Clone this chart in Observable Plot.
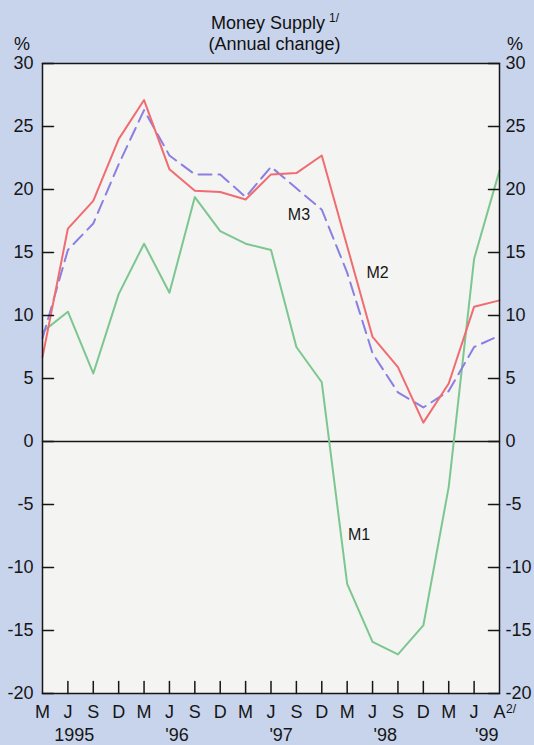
<!DOCTYPE html>
<html><head><meta charset="utf-8">
<script src="https://cdn.jsdelivr.net/npm/d3@7"></script>
<script src="https://cdn.jsdelivr.net/npm/@observablehq/plot@0.6"></script>
<style>
html,body{margin:0;padding:0;background:#c8d4ec;}
#wrap{position:relative;width:534px;height:745px;font-family:"Liberation Sans",Arial,sans-serif;color:#111;overflow:hidden;}
.t{position:absolute;font-size:18px;line-height:20px;white-space:nowrap;}
</style></head><body>
<div id="wrap">
  <div id="chart"></div>
  <div class="t" style="left:0;width:550px;text-align:center;top:13px;">Money Supply<span style="font-size:12px;position:relative;top:-7px;margin-left:4px;">1/</span></div>
  <div class="t" style="left:0;width:549px;text-align:center;top:34px;">(Annual change)</div>
  <div class="t" style="left:14px;top:34px;">%</div>
  <div class="t" style="left:507px;top:34px;">%</div>
  <div class="t" style="left:506px;top:703px;font-size:12px;line-height:12px;">2/</div>
</div>
<script>
// Quarterly observations, Mar 1995 ... Jun 1999, then Aug 1999
const periods = ["Mar95","Jun95","Sep95","Dec95","Mar96","Jun96","Sep96","Dec96","Mar97","Jun97","Sep97","Dec97","Mar98","Jun98","Sep98","Dec98","Mar99","Jun99","Aug99"];
const m1 = [8.7, 10.3, 5.4, 11.7, 15.7, 11.8, 19.4, 16.7, 15.7, 15.2, 7.5, 4.7, -11.3, -15.9, -16.9, -14.6, -3.6, 14.5, 21.5];
const m2 = [6.7, 16.9, 19.1, 24.0, 27.1, 21.6, 19.9, 19.8, 19.2, 21.2, 21.3, 22.7, 15.5, 8.3, 5.9, 1.5, 4.6, 10.7, 11.2];
const m3 = [8.2, 15.2, 17.3, 22.0, 26.3, 22.7, 21.2, 21.2, 19.4, 21.8, 20.1, 18.4, 13.4, 7.0, 3.9, 2.7, 4.0, 7.5, 8.4];

const monthLabels = ["M","J","S","D","M","J","S","D","M","J","S","D","M","J","S","D","M","J","A"];
const yearLabels = ["1995","'96","'97","'98","'99"];
const yearTickPos = [1.25, 5.3, 9.4, 13.5, 17.5];
const yTicks = [-20,-15,-10,-5,0,5,10,15,20,25,30];
const seriesLabels = [{name:"M3", x:10.1, y:18.0},{name:"M2", x:13.2, y:13.35},{name:"M1", x:12.47, y:-7.45}];

const idx = d3.range(periods.length);
const rows = (vals) => idx.map(i => ({i, v: vals[i]}));
const tickShape = {draw(ctx, l){ ctx.moveTo(0,0); ctx.lineTo(0,-l); }};
const ink = "#161616";

const chart = Plot.plot({
  width: 534, height: 745,
  marginLeft: 42, marginRight: 35, marginTop: 63, marginBottom: 52,
  style: {background: "transparent", fontFamily: "'Liberation Sans', Arial, sans-serif", fontSize: "18px", color: ink, overflow: "visible"},
  x: {domain: [0, periods.length - 1], axis: null},
  y: {domain: [-20, 30], axis: null},
  marks: [
    Plot.frame({fill: "#f4f4f2", stroke: null}),
    Plot.ruleY([0], {stroke: ink, strokeWidth: 1.5}),
    Plot.line(rows(m1), {x: "i", y: "v", stroke: "#7cc690", strokeWidth: 2}),
    Plot.line(rows(m3), {x: "i", y: "v", stroke: "#8a7fe2", strokeWidth: 2, strokeDasharray: "13,7"}),
    Plot.line(rows(m2), {x: "i", y: "v", stroke: "#f06c70", strokeWidth: 2}),
    Plot.text(seriesLabels, {x: "x", y: "y", text: "name", fontSize: 16, fill: ink}),
    // inward ticks
    Plot.vector(yTicks, {x: () => 0, y: d => d, length: 11, rotate: 90, anchor: "start", shape: tickShape, stroke: ink, strokeWidth: 1.5}),
    Plot.vector(yTicks, {x: () => periods.length - 1, y: d => d, length: 11, rotate: -90, anchor: "start", shape: tickShape, stroke: ink, strokeWidth: 1.5}),
    Plot.vector(d3.range(1, periods.length - 1), {x: d => d, y: () => -20, length: 12, rotate: 0, anchor: "start", shape: tickShape, stroke: ink, strokeWidth: 1.5}),
    // tick labels
    Plot.axisY(yTicks, {anchor: "left", tickSize: 0, tickPadding: 9, tickFormat: d => String(d), label: null, fontSize: 18}),
    Plot.axisY(yTicks, {anchor: "right", tickSize: 0, tickPadding: 6, tickFormat: d => String(d), label: null, fontSize: 18}),
    Plot.axisX(idx, {anchor: "bottom", tickSize: 0, tickPadding: 12, tickFormat: d => monthLabels[d], label: null, fontSize: 18}),
    Plot.axisX(yearTickPos, {anchor: "bottom", tickSize: 0, tickPadding: 35, tickFormat: (d, k) => yearLabels[yearTickPos.indexOf(d)], label: null, fontSize: 18}),
    Plot.frame({stroke: ink, strokeWidth: 1.5})
  ]
});
document.getElementById("chart").appendChild(chart);
</script>
</body></html>
